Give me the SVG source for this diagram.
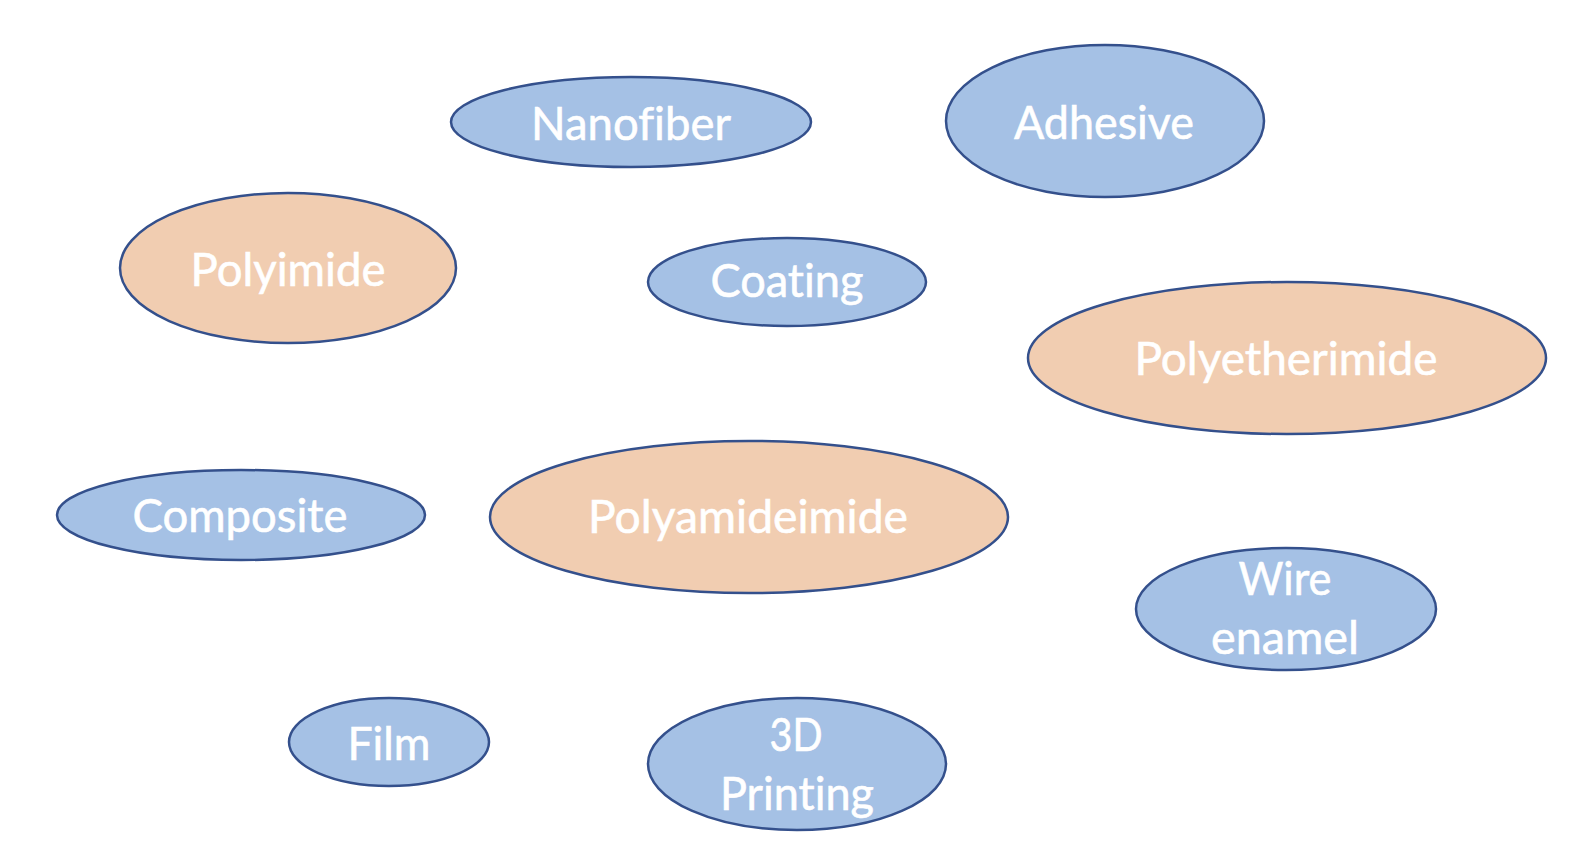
<svg xmlns="http://www.w3.org/2000/svg" width="1596" height="868" viewBox="0 0 1596 868">
<style>
.b{fill:#A5C1E5;stroke:#34508C;stroke-width:2.5}
.o{fill:#F1CDB1;stroke:#34508C;stroke-width:2.5}
text{font-family:Lato,"Open Sans","Liberation Sans",sans-serif;font-size:46px;fill:#FFFFFF;text-anchor:middle;font-variant-ligatures:none;font-feature-settings:"liga" 0,"clig" 0;stroke:#FFFFFF;stroke-width:0.6}
</style>
<rect width="1596" height="868" fill="#FFFFFF"/>
<g id="connectors"/>
<g id="nanofiber"><ellipse class="b" cx="631" cy="122" rx="180" ry="45"/><text x="631" y="140" textLength="200" lengthAdjust="spacingAndGlyphs">Nanofiber</text></g>
<g id="adhesive"><ellipse class="b" cx="1105" cy="121" rx="159" ry="76"/><text x="1104" y="139" textLength="180" lengthAdjust="spacingAndGlyphs">Adhesive</text></g>
<g id="polyimide"><ellipse class="o" cx="288" cy="268" rx="168" ry="75"/><text x="288" y="286" textLength="195" lengthAdjust="spacingAndGlyphs">Polyimide</text></g>
<g id="coating"><ellipse class="b" cx="787" cy="282" rx="139" ry="44"/><text x="787" y="297" textLength="153" lengthAdjust="spacingAndGlyphs">Coating</text></g>
<g id="polyetherimide"><ellipse class="o" cx="1287" cy="358" rx="259" ry="76"/><text x="1286" y="375" textLength="303" lengthAdjust="spacingAndGlyphs">Polyetherimide</text></g>
<g id="composite"><ellipse class="b" cx="241" cy="515" rx="184" ry="45"/><text x="240" y="532" textLength="215" lengthAdjust="spacingAndGlyphs">Composite</text></g>
<g id="polyamideimide"><ellipse class="o" cx="749" cy="517" rx="259" ry="76"/><text x="748" y="533" textLength="320" lengthAdjust="spacingAndGlyphs">Polyamideimide</text></g>
<g id="wire-enamel"><ellipse class="b" cx="1286" cy="609" rx="150" ry="61"/><text x="1285" y="595" textLength="93" lengthAdjust="spacingAndGlyphs">Wire</text><text x="1285" y="654" textLength="148" lengthAdjust="spacingAndGlyphs">enamel</text></g>
<g id="film"><ellipse class="b" cx="389" cy="742" rx="100" ry="44"/><text x="389" y="760" textLength="83" lengthAdjust="spacingAndGlyphs">Film</text></g>
<g id="printing"><ellipse class="b" cx="797" cy="764" rx="149" ry="66"/><text x="796" y="751" textLength="53" lengthAdjust="spacingAndGlyphs">3D</text><text x="797" y="810" textLength="154" lengthAdjust="spacingAndGlyphs">Printing</text></g>
</svg>
